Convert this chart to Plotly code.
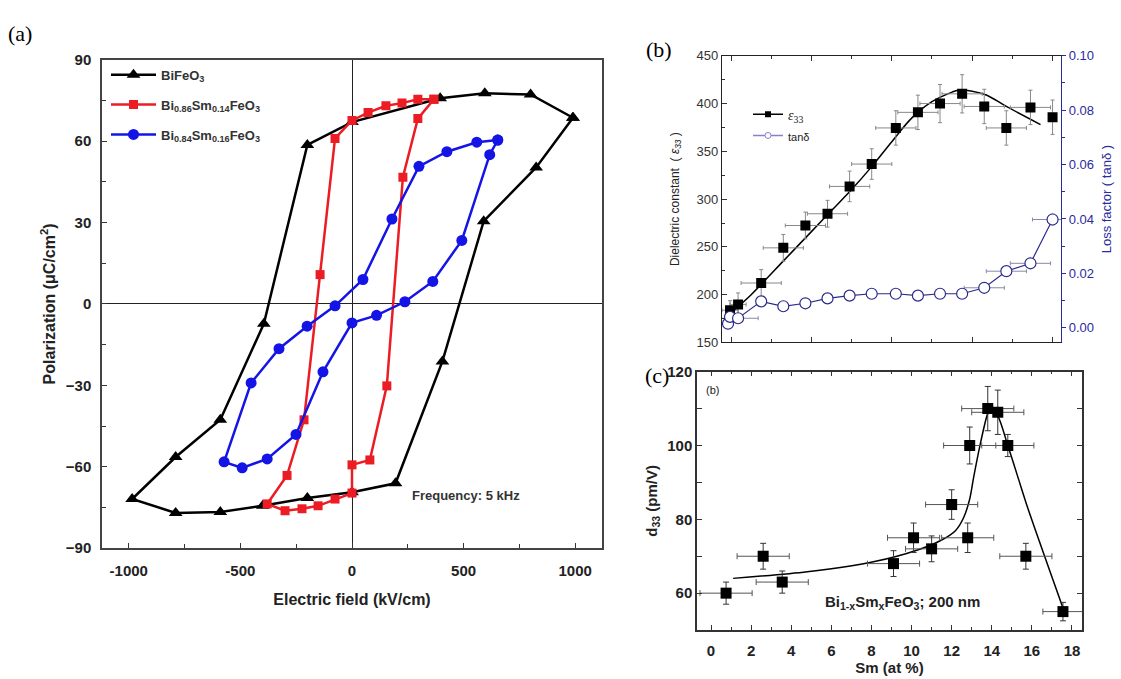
import plotly.graph_objects as go

# ---------------- (a) P-E hysteresis loops ----------------
bfo_E = [990, 800, 595, 395, 0, -200, -395, -590, -790, -985,
         -790, -590, -400, -200, 0, 195, 405, 590, 825, 990]
bfo_P = [68.6, 77.2, 77.6, 75.8, 67.0, 58.6, -7.3, -42.7, -56.4, -71.9,
         -77.0, -76.7, -74.4, -71.5, -69.4, -66.1, -21.2, 30.5, 50.3, 68.6]

sm14_E = [367, 295, 224, 152, 72, 0, -76, -143, -215, -291, -380,
          -300, -224, -152, -76, 0, 0, 80, 156, 228, 295, 367]
sm14_P = [75.4, 75.4, 74.0, 73.0, 70.5, 67.6, 61.0, 10.8, -42.7, -63.2, -73.7,
          -76.2, -75.5, -74.4, -71.9, -69.7, -59.3, -57.5, -30.2, 46.7, 68.3, 75.4]

sm16_E = [653, 559, 425, 300, 179, 49, -76, -201, -327, -452, -573,
          -492, -380, -251, -130, 0, 110, 237, 362, 492, 617, 653]
sm16_P = [60.4, 59.6, 56.1, 50.7, 31.3, 9.0, -0.7, -8.2, -16.5, -29.1, -58.2,
          -60.4, -57.1, -48.1, -25.0, -7.0, -4.2, 0.8, 8.3, 23.4, 55.0, 60.4]

# ---------------- (b) dielectric constant and loss ----------------
eps_x = [-0.05, 0.35, 1.5, 2.6, 3.7, 4.8, 5.9, 7.0, 8.2, 9.3, 10.4, 11.5, 12.6, 13.7, 14.9, 16.0]
eps_y = [183.7, 189.8, 212.2, 249.0, 272.4, 284.7, 313.3, 336.7, 374.5, 390.8,
         400.0, 410.2, 397.0, 374.5, 396.0, 385.7]
eps_err = [10, 12, 14, 14, 14, 14, 16, 16, 18, 18, 20, 20, 18, 18, 18, 18]
eps_xerr = [0.4, 0.4, 1.0, 1.0, 1.0, 1.0, 1.0, 1.0, 1.0, 1.0, 1.0, 1.0, 1.0, 1.0, 1.0, 0.0]

eps_fit_x = [0.0, 1.0, 2.0, 3.0, 4.0, 5.0, 6.0, 7.0, 8.0, 9.0, 10.0, 11.0, 11.3, 12.0, 12.7, 13.7, 15.4]
eps_fit_y = [181, 200, 222, 244, 266, 288, 310, 334, 360, 385, 402, 412, 414, 413, 409, 397, 378]

tan_x = [-0.15, -0.05, 0.35, 1.5, 2.6, 3.7, 4.8, 5.9, 7.0, 8.2, 9.3, 10.4, 11.5, 12.6, 13.7, 14.9, 16.0]
tan_y = [0.0015, 0.0040, 0.0035, 0.0097, 0.0079, 0.0090, 0.0108, 0.0118, 0.0125, 0.0125,
         0.0118, 0.0125, 0.0125, 0.0147, 0.0208, 0.0237, 0.0398]
tan_xerr = [0.0, 0.0, 1.0, 0.0, 0.0, 0.0, 0.0, 0.0, 0.0, 0.0, 0.0, 0.0, 0.0, 1.0, 1.0, 1.0, 1.0]
tan_err = [0.0, 0.0, 0.0, 0.0, 0.0, 0.0, 0.0, 0.0, 0.0, 0.0, 0.0, 0.0, 0.0, 0.0, 0.0, 0.0015, 0.0020]

# ---------------- (c) piezoelectric coefficient d33 ----------------
d33_x = [0.75, 2.6, 3.55, 9.1, 10.1, 11.0, 12.0, 12.8, 12.9, 13.8, 14.3, 14.8, 15.7, 17.55]
d33_y = [60, 70, 63, 68, 75, 72, 84, 75, 100, 110, 109, 100, 70, 55]
d33_err = [3, 3.5, 3, 3.5, 4, 3.5, 4, 4, 5, 6, 6, 3, 3.5, 2.5]
d33_xerr = [1.3, 1.3, 1.3, 1.3, 1.3, 1.3, 1.3, 1.3, 1.3, 1.3, 1.3, 1.3, 1.3, 1.0]

d33_fit_x = [1.1, 4.8, 8.1, 10.3, 11.5, 12.2, 12.6, 12.9, 13.1, 13.45, 13.8, 13.95, 14.3, 14.8, 15.3, 15.8, 17.55]
d33_fit_y = [64, 65.8, 68.5, 71.7, 74.4, 77.0, 80.5, 85.5, 91.5, 101, 108.7, 110, 108, 100, 91.5, 83, 56]

W, H = 1121, 679
ARIAL = "Arial, Liberation Sans, sans-serif"
SERIF = "Times New Roman, Liberation Serif, serif"

fig = go.Figure()

# ---- panel (a) traces
loops = [
    (bfo_E, bfo_P, "black", "triangle-up", 12, "BiFeO<sub>3</sub>"),
    (sm14_E, sm14_P, "#ec1c24", "square", 9, "Bi<sub>0.86</sub>Sm<sub>0.14</sub>FeO<sub>3</sub>"),
    (sm16_E, sm16_P, "#1414e6", "circle", 11, "Bi<sub>0.84</sub>Sm<sub>0.16</sub>FeO<sub>3</sub>"),
]
for i, (ex, py, col, sym, sz, name) in enumerate(loops):
    fig.add_trace(go.Scatter(
        x=ex, y=py, mode="lines+markers", name=name,
        line=dict(color=col, width=2.5),
        marker=dict(symbol=sym, size=sz, color=col),
        xaxis="x", yaxis="y", legend="legend", legendgroup=f"g{i}",
    ))

# ---- panel (b) traces
fig.add_trace(go.Scatter(
    x=eps_fit_x, y=eps_fit_y, mode="lines", line=dict(color="black", width=1.5, shape="spline"),
    showlegend=False, xaxis="x2", yaxis="y2"))
fig.add_trace(go.Scatter(
    x=eps_x, y=eps_y, mode="markers", showlegend=False,
    marker=dict(symbol="square", size=10, color="black"),
    error_y=dict(type="data", array=eps_err, color="#888888", thickness=1, width=2),
    error_x=dict(type="data", array=eps_xerr, color="#888888", thickness=1, width=2),
    xaxis="x2", yaxis="y2"))
fig.add_trace(go.Scatter(
    x=tan_x, y=tan_y, mode="lines+markers", showlegend=False,
    line=dict(color="#2b2b8c", width=1.2),
    marker=dict(symbol="circle", size=11, color="white", line=dict(width=1.2, color="#2b2b8c")),
    error_y=dict(type="data", array=tan_err, color="#8888aa", thickness=1, width=2),
    error_x=dict(type="data", array=tan_xerr, color="#8888aa", thickness=1, width=2),
    xaxis="x2", yaxis="y3"))
# legend samples for panel (b)
fig.add_trace(go.Scatter(
    x=[None], y=[None], mode="lines+markers", name="<i>ε</i><sub>33</sub>",
    line=dict(color="black", width=1.5), marker=dict(symbol="square", size=6, color="black"),
    xaxis="x2", yaxis="y2", legend="legend2"))
fig.add_trace(go.Scatter(
    x=[None], y=[None], mode="lines+markers", name="<span style='font-family:Arial;font-size:11px'>tanδ</span>",
    line=dict(color="#8a7fd0", width=1.5),
    marker=dict(symbol="circle", size=6, color="white", line=dict(width=1, color="#8a7fd0")),
    xaxis="x2", yaxis="y2", legend="legend2"))

# ---- panel (c) traces
fig.add_trace(go.Scatter(
    x=d33_fit_x, y=d33_fit_y, mode="lines", line=dict(color="black", width=1.5, shape="spline", smoothing=0.8),
    showlegend=False, xaxis="x3", yaxis="y4"))
fig.add_trace(go.Scatter(
    x=d33_x, y=d33_y, mode="markers", showlegend=False,
    marker=dict(symbol="square", size=11, color="black"),
    error_y=dict(type="data", array=d33_err, color="#333333", thickness=1, width=3),
    error_x=dict(type="data", array=d33_xerr, color="#555555", thickness=1, width=3),
    xaxis="x3", yaxis="y4"))


def px_x(p):
    return p / W


def px_y(p):
    return 1 - p / H


bold14 = dict(family=ARIAL, size=15, color="#222222", weight="bold")

fig.update_layout(
    width=W, height=H,
    margin=dict(l=0, r=0, t=0, b=0),
    paper_bgcolor="white", plot_bgcolor="white",
    # (a)
    xaxis=dict(
        domain=[px_x(102), px_x(602)], anchor="y", range=[-1120, 1120],
        tickvals=[-1000, -500, 0, 500, 1000], ticktext=["-1000", "-500", "0", "500", "1000"],
        ticks="inside", ticklen=5, tickcolor="#333", tickfont=bold14, ticklabelstandoff=8,
        minor=dict(tickvals=[-750, -250, 250, 750], ticks="inside", ticklen=4, tickcolor="#333"),
        showline=True, linecolor="#444", linewidth=1.5, mirror=True,
        showgrid=False, zeroline=True, zerolinecolor="#222", zerolinewidth=1,
        title=dict(text="Electric field (kV/cm)", font=dict(family=ARIAL, size=16, color="#222", weight="bold"), standoff=16),
    ),
    yaxis=dict(
        domain=[px_y(553), px_y(52)], anchor="x", range=[-90, 90],
        tickvals=[-90, -60, -30, 0, 30, 60, 90],
        ticks="inside", ticklen=5, tickcolor="#333", tickfont=bold14, ticklabelstandoff=6,
        minor=dict(dtick=15, ticks="inside", ticklen=4, tickcolor="#333"),
        showline=True, linecolor="#444", linewidth=1.5, mirror=True,
        showgrid=False, zeroline=True, zerolinecolor="#222", zerolinewidth=1,
        title=dict(text="Polarization (μC/cm<sup>2</sup>)", font=dict(family=ARIAL, size=16, color="#222", weight="bold"), standoff=6),
    ),
    # (b)
    xaxis2=dict(
        domain=[px_x(722), px_x(1061)], anchor="y2", range=[-0.45, 16.42],
        tickvals=[0, 4, 8, 12, 16], showticklabels=False,
        ticks="inside", ticklen=5, tickcolor="#333",
        minor=dict(tickvals=[2, 6, 10, 14], ticks="inside", ticklen=3, tickcolor="#333"),
        showline=True, linecolor="#222", linewidth=1.2, mirror="ticks",
        showgrid=False, zeroline=False,
    ),
    yaxis2=dict(
        domain=[px_y(342), px_y(48)], anchor="x2", range=[150, 450], dtick=50,
        ticks="inside", ticklen=5, tickcolor="#333",
        tickfont=dict(family=ARIAL, size=13, color="#333"),
        minor=dict(dtick=25, ticks="inside", ticklen=3, tickcolor="#333"),
        showline=True, linecolor="#222", linewidth=1.2,
        showgrid=False, zeroline=False,
        title=dict(text="Dielectric constant  ( <i>ε<sub>33</sub></i> )",
                   font=dict(family=ARIAL, size=12, color="#222"), standoff=14),
    ),
    yaxis3=dict(
        overlaying="y2", side="right", anchor="x2", range=[-0.0054, 0.1],
        tickvals=[0.0, 0.02, 0.04, 0.06, 0.08, 0.10],
        ticktext=["0.00", "0.02", "0.04", "0.06", "0.08", "0.10"],
        ticks="outside", ticklen=4, tickcolor="#2b2b9e",
        tickfont=dict(family=ARIAL, size=13, color="#2b2b9e"),
        minor=dict(tickvals=[0.01, 0.03, 0.05, 0.07, 0.09], ticks="outside", ticklen=3, tickcolor="#2b2b9e"),
        showline=True, linecolor="#2b2b9e", linewidth=1.2,
        showgrid=False, zeroline=False,
        title=dict(text="Loss factor ( tanδ )", font=dict(family=ARIAL, size=13, color="#2b2b9e"), standoff=8),
    ),
    # (c)
    xaxis3=dict(
        domain=[px_x(697), px_x(1082)], anchor="y4", range=[-0.7, 18.5],
        tickvals=[0, 2, 4, 6, 8, 10, 12, 14, 16, 18],
        ticks="inside", ticklen=5, tickcolor="#333", tickfont=bold14, ticklabelstandoff=6,
        minor=dict(dtick=1, ticks="inside", ticklen=3, tickcolor="#333"),
        showline=True, linecolor="#333", linewidth=1.5, mirror="ticks",
        showgrid=False, zeroline=False,
        title=dict(text="Sm (at %)", font=dict(family=ARIAL, size=15, color="#222", weight="bold"), standoff=4),
    ),
    yaxis4=dict(
        domain=[px_y(637), px_y(372)], anchor="x3", range=[50, 120],
        tickvals=[60, 80, 100, 120],
        ticks="inside", ticklen=5, tickcolor="#333", tickfont=bold14,
        minor=dict(tickvals=[70, 90, 110], ticks="inside", ticklen=5, tickcolor="#333"),
        showline=True, linecolor="#333", linewidth=1.5, mirror="ticks",
        showgrid=False, zeroline=False,
        title=dict(text="d<sub>33</sub> (pm/V)", font=dict(family=ARIAL, size=15, color="#222", weight="bold"), standoff=6),
    ),
    legend=dict(
        x=px_x(106), y=px_y(52), xanchor="left", yanchor="top",
        bgcolor="rgba(255,255,255,0)", borderwidth=0,
        font=dict(family=ARIAL, size=13, color="#333", weight="bold"),
        tracegroupgap=10, itemwidth=45, traceorder="grouped",
    ),
    legend2=dict(
        x=px_x(748), y=px_y(92), xanchor="left", yanchor="top",
        bgcolor="rgba(255,255,255,0)", borderwidth=0,
        font=dict(family=SERIF, size=14, color="#222"),
        itemwidth=30, tracegroupgap=0,
    ),
    annotations=[
        dict(text="(a)", x=px_x(6), y=px_y(25), xref="paper", yref="paper",
             xanchor="left", yanchor="middle", showarrow=False,
             font=dict(family=SERIF, size=22, color="black")),
        dict(text="(b)", x=px_x(644), y=px_y(42), xref="paper", yref="paper",
             xanchor="left", yanchor="middle", showarrow=False,
             font=dict(family=SERIF, size=22, color="black")),
        dict(text="(c)", x=px_x(643), y=px_y(376), xref="paper", yref="paper",
             xanchor="left", yanchor="middle", showarrow=False,
             font=dict(family=SERIF, size=22, color="black")),
        dict(text="Frequency: 5 kHz", x=px_x(410), y=px_y(499), xref="paper", yref="paper",
             xanchor="left", yanchor="middle", showarrow=False,
             font=dict(family=ARIAL, size=13, color="#333", weight="bold")),
        dict(text="(b)", x=px_x(704), y=px_y(391), xref="paper", yref="paper",
             xanchor="left", yanchor="middle", showarrow=False,
             font=dict(family=ARIAL, size=11, color="#222")),
        dict(text="Bi<sub>1-x</sub>Sm<sub>x</sub>FeO<sub>3</sub>; 200 nm", x=px_x(823), y=px_y(609),
             xref="paper", yref="paper", xanchor="left", yanchor="middle", showarrow=False,
             font=dict(family=ARIAL, size=15, color="#222", weight="bold")),
    ],
)

fig.write_html("out.html")
